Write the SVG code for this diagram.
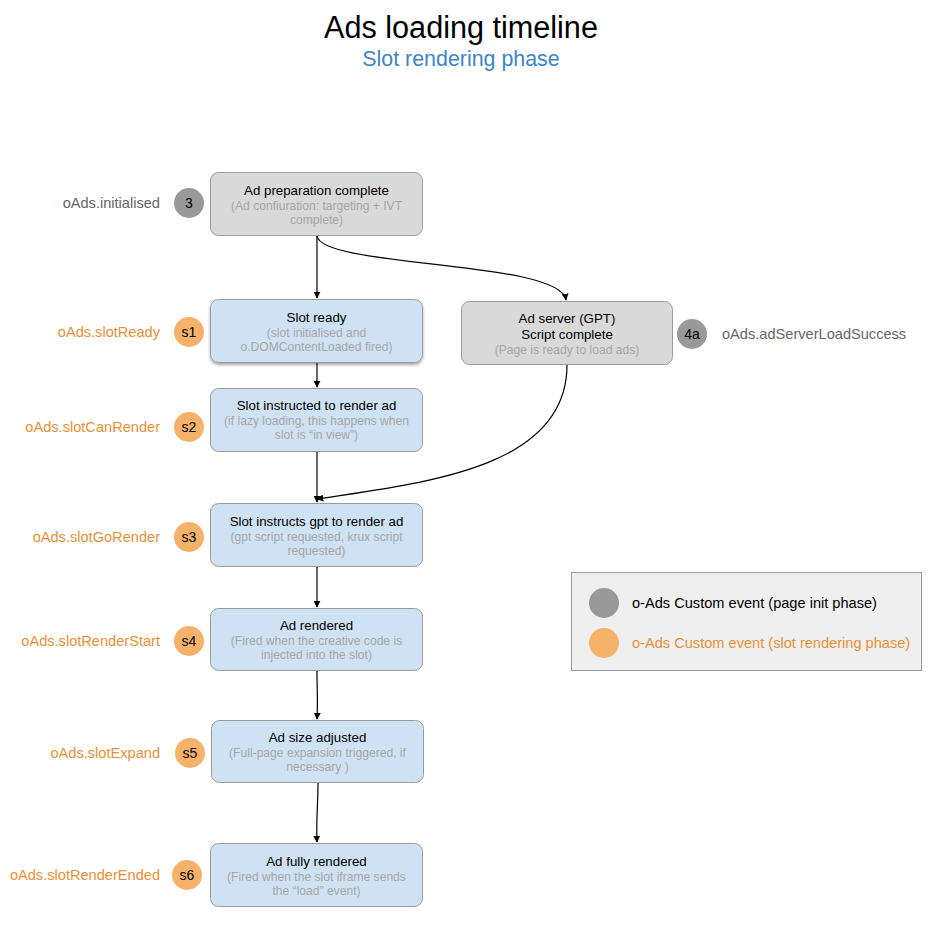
<svg xmlns="http://www.w3.org/2000/svg" width="947" height="938" viewBox="0 0 947 938">
<defs>
<style>
text{font-family:"Liberation Sans",Arial,sans-serif}
.title{font-size:30.6px;fill:#000;text-anchor:middle}
.sub{font-size:21.4px;fill:#3d85c6;text-anchor:middle}
.gbox{fill:#d9d9d9;stroke:#9a9a9a;stroke-width:1}
.bbox{fill:#cfe2f3;stroke:#9a9a9a;stroke-width:1}
.bt{font-size:13.3px;fill:#000;text-anchor:middle}
.bs{font-size:12.1px;fill:#a6a6a6;text-anchor:middle}
.gc{fill:#999999}
.oc{fill:#f6b26b}
.ct{font-size:14px;fill:#000;text-anchor:middle}
.gl{font-size:14.6px;fill:#666666}
.ol{font-size:14.6px;fill:#e69138}
.conn{fill:none;stroke:#000;stroke-width:1.2}
</style>
<marker id="arr" viewBox="0 0 10 10" refX="9" refY="5" markerWidth="7" markerHeight="7" orient="auto" markerUnits="userSpaceOnUse">
<path d="M0,0 L10,5 L0,10 z" fill="#000"/>
</marker>
<filter id="sh" x="-10%" y="-10%" width="120%" height="130%">
<feDropShadow dx="0" dy="2" stdDeviation="1.5" flood-color="#000" flood-opacity="0.35"/>
</filter>
</defs>
<rect width="947" height="938" fill="#fff"/>
<text class="title" x="461" y="38">Ads loading timeline</text>
<text class="sub" x="461" y="66">Slot rendering phase</text>

<g id="connectors">
<path class="conn" d="M317,236 L317,298" marker-end="url(#arr)"/>
<path class="conn" d="M317,236 C322,268 560,260 566,300" marker-end="url(#arr)"/>
<path class="conn" d="M317,363 L317,387" marker-end="url(#arr)"/>
<path class="conn" d="M317,452 L317,502" marker-end="url(#arr)"/>
<path class="conn" d="M567,365 C567,470 420,483 317,499" marker-end="url(#arr)"/>
<path class="conn" d="M317,567 L317,607" marker-end="url(#arr)"/>
<path class="conn" d="M317,671 C317,690 318,700 317,719" marker-end="url(#arr)"/>
<path class="conn" d="M318,783 C318,805 316,820 317,842" marker-end="url(#arr)"/>
</g>

<g id="n3">
<rect class="gbox" x="210.5" y="172.5" width="212" height="63" rx="8"/>
<text class="bt" x="316.5" y="195">Ad preparation complete</text>
<text class="bs" x="316.5" y="209.5">(Ad confiuration: targeting + IVT</text>
<text class="bs" x="316.5" y="223.5">complete)</text>
<circle class="gc" cx="189" cy="203" r="15"/>
<text class="ct" x="189" y="208">3</text>
<text class="gl" x="160" y="208" text-anchor="end">oAds.initialised</text>
</g>

<g id="s1">
<rect class="bbox" x="210.5" y="299.5" width="212" height="63" rx="8" filter="url(#sh)"/>
<text class="bt" x="316.5" y="322">Slot ready</text>
<text class="bs" x="316.5" y="336.5">(slot initialised and</text>
<text class="bs" x="316.5" y="350.5">o.DOMContentLoaded fired)</text>
<circle class="oc" cx="189" cy="332" r="15"/>
<text class="ct" x="189" y="337">s1</text>
<text class="ol" x="160" y="337" text-anchor="end">oAds.slotReady</text>
</g>

<g id="n4a">
<rect class="gbox" x="461.5" y="301.5" width="211" height="63" rx="8"/>
<text class="bt" x="567" y="323">Ad server (GPT)</text>
<text class="bt" x="567" y="339">Script complete</text>
<text class="bs" x="567" y="354">(Page is ready to load ads)</text>
<circle class="gc" cx="692" cy="334" r="15"/>
<text class="ct" x="692" y="339">4a</text>
<text class="gl" x="722" y="339">oAds.adServerLoadSuccess</text>
</g>

<g id="s2">
<rect class="bbox" x="210.5" y="388.5" width="212" height="63" rx="8"/>
<text class="bt" x="316.5" y="410">Slot instructed to render ad</text>
<text class="bs" x="316.5" y="425">(if lazy loading, this happens when</text>
<text class="bs" x="316.5" y="439">slot is “in view”)</text>
<circle class="oc" cx="189" cy="427" r="15"/>
<text class="ct" x="189" y="432">s2</text>
<text class="ol" x="160" y="432" text-anchor="end">oAds.slotCanRender</text>
</g>

<g id="s3">
<rect class="bbox" x="210.5" y="503.5" width="212" height="63" rx="8"/>
<text class="bt" x="316.5" y="526">Slot instructs gpt to render ad</text>
<text class="bs" x="316.5" y="541">(gpt script requested, krux script</text>
<text class="bs" x="316.5" y="555">requested)</text>
<circle class="oc" cx="189" cy="537" r="15"/>
<text class="ct" x="189" y="542">s3</text>
<text class="ol" x="160" y="542" text-anchor="end">oAds.slotGoRender</text>
</g>

<g id="s4">
<rect class="bbox" x="210.5" y="608.5" width="212" height="62" rx="8"/>
<text class="bt" x="316.5" y="630">Ad rendered</text>
<text class="bs" x="316.5" y="645">(Fired when the creative code is</text>
<text class="bs" x="316.5" y="659">injected into the slot)</text>
<circle class="oc" cx="189" cy="641" r="15"/>
<text class="ct" x="189" y="646">s4</text>
<text class="ol" x="160" y="646" text-anchor="end">oAds.slotRenderStart</text>
</g>

<g id="s5">
<rect class="bbox" x="211.5" y="720.5" width="212" height="62" rx="8"/>
<text class="bt" x="317.5" y="742">Ad size adjusted</text>
<text class="bs" x="317.5" y="757">(Full-page expansion triggered, if</text>
<text class="bs" x="317.5" y="771">necessary )</text>
<circle class="oc" cx="190" cy="753" r="15"/>
<text class="ct" x="190" y="758">s5</text>
<text class="ol" x="160" y="758" text-anchor="end">oAds.slotExpand</text>
</g>

<g id="s6">
<rect class="bbox" x="210.5" y="843.5" width="212" height="63" rx="8"/>
<text class="bt" x="316.5" y="866">Ad fully rendered</text>
<text class="bs" x="316.5" y="881">(Fired when the slot iframe sends</text>
<text class="bs" x="316.5" y="895">the “load” event)</text>
<circle class="oc" cx="187" cy="875" r="15"/>
<text class="ct" x="187" y="880">s6</text>
<text class="ol" x="160" y="880" text-anchor="end">oAds.slotRenderEnded</text>
</g>

<g id="legend">
<rect x="571.5" y="572.5" width="350" height="98" fill="#efefef" stroke="#9a9a9a" stroke-width="1"/>
<circle class="gc" cx="604" cy="603" r="15"/>
<text x="632" y="608" style="font-size:14.6px;fill:#000">o-Ads Custom event (page init phase)</text>
<circle class="oc" cx="604" cy="643" r="15"/>
<text class="ol" x="632" y="648">o-Ads Custom event (slot rendering phase)</text>
</g>
</svg>
